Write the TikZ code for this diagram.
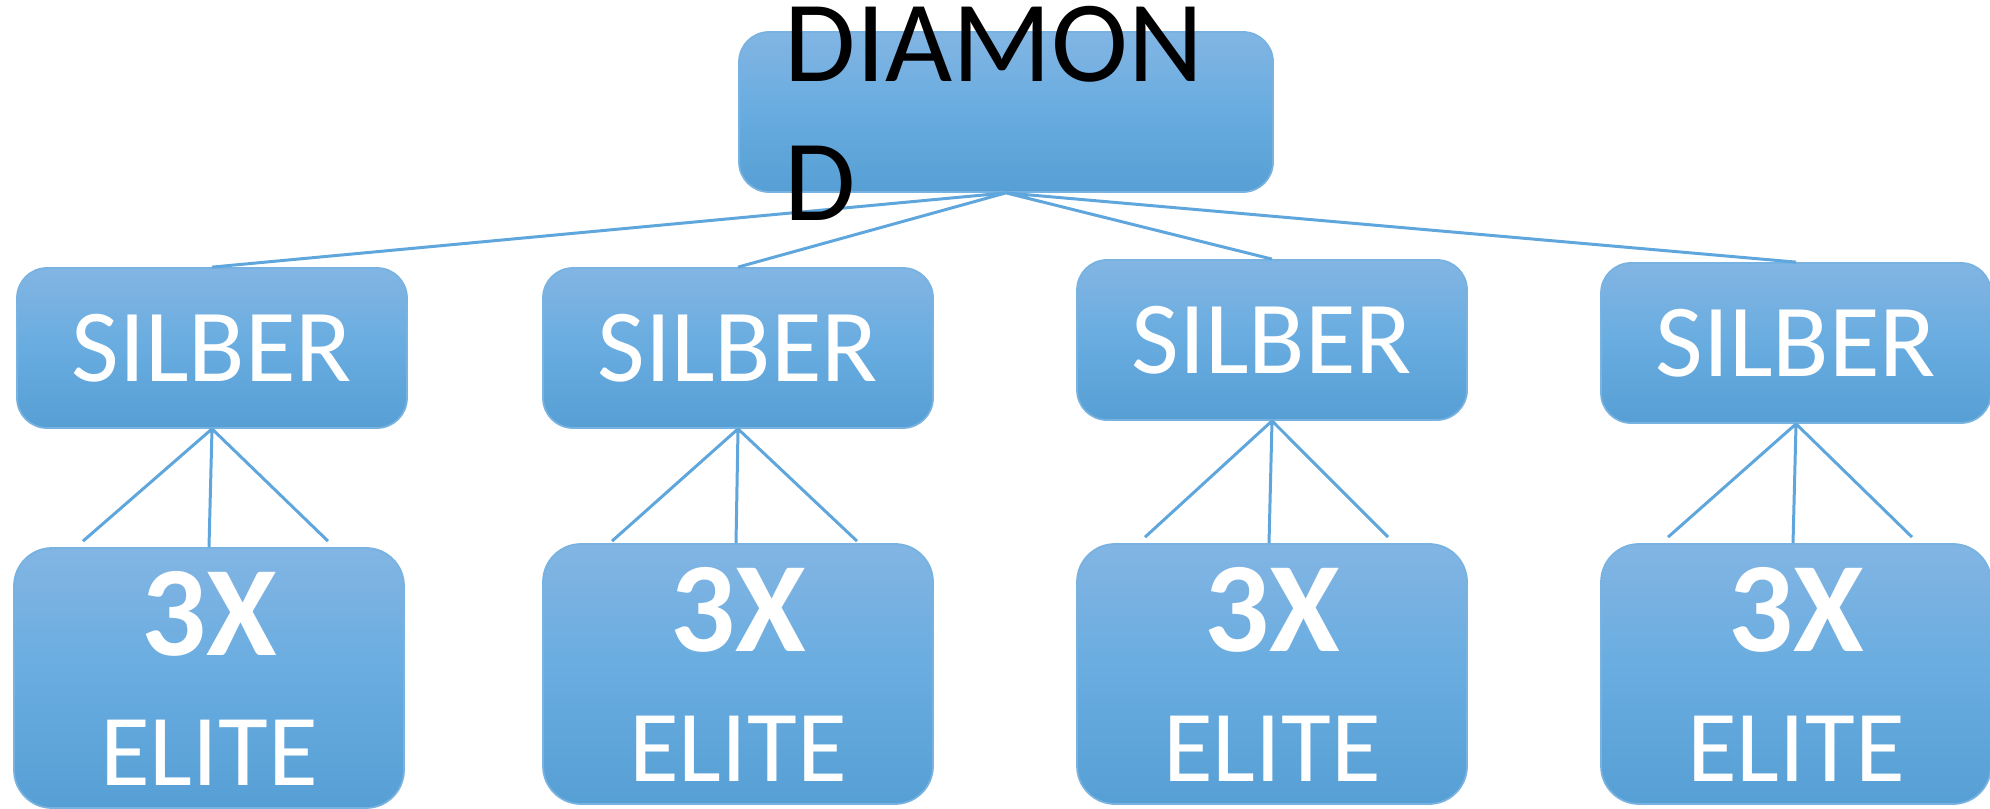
\documentclass[tikz,border=0pt]{standalone}
\usepackage{fontspec}
\setmainfont{Carlito}
\usetikzlibrary{calc}
\definecolor{boxoben}{RGB}{130,181,227}
\definecolor{boxmitte}{RGB}{104,172,224}
\definecolor{boxunten}{RGB}{86,159,212}
\definecolor{boxrand}{RGB}{120,178,225}
\definecolor{linie}{RGB}{94,166,220}

\begin{document}
\begin{tikzpicture}[
    kasten/.style={draw=boxrand, line width=0.5pt, top color=boxoben, bottom color=boxunten, middle color=boxmitte, inner sep=0pt},
    silber/.style={kasten, rounded corners=0.3cm, minimum width=3.9cm, minimum height=1.6cm, text=white, font=\fontsize{29.5}{35}\selectfont},
    elite/.style={kasten, rounded corners=0.38cm, minimum width=3.9cm, minimum height=2.6cm, text=white, align=center, font=\fontsize{29}{37}\selectfont},
    verbinder/.style={draw=linie, line width=0.85pt}]

    \useasboundingbox (0,0) rectangle (19.9,8.08);

      \node[kasten, rounded corners=0.3cm, minimum width=5.34cm, minimum height=1.6cm] (dia) at (10.06,6.96) {};

      \node[silber] (s1) at (2.12,4.60)  {SILBER};
      \node[silber] (s2) at (7.38,4.60)  {SILBER};
      \node[silber] (s3) at (12.72,4.68) {SILBER};
      \node[silber] (s4) at (17.96,4.65) {SILBER};

      \node[elite] (e1) at (2.09,1.30)  {{\fontsize{36.5}{37}\selectfont\bfseries 3X}\\ELITE};
      \node[elite] (e2) at (7.38,1.34)  {{\fontsize{36.5}{37}\selectfont\bfseries 3X}\\ELITE};
      \node[elite] (e3) at (12.72,1.34) {{\fontsize{36.5}{37}\selectfont\bfseries 3X}\\ELITE};
      \node[elite] (e4) at (17.96,1.34) {{\fontsize{36.5}{37}\selectfont\bfseries 3X}\\ELITE};

      % freie Enden ueber den Elite-Kaesten
      \coordinate (e1l) at ($(e1.north)+(-1.26,0.06)$);
      \coordinate (e1m) at ($(e1.north)+(0.00,0)$);
      \coordinate (e1r) at ($(e1.north)+(1.19,0.06)$);
      \coordinate (e2l) at ($(e2.north)+(-1.26,0.02)$);
      \coordinate (e2m) at ($(e2.north)+(-0.02,0)$);
      \coordinate (e2r) at ($(e2.north)+(1.19,0.02)$);
      \coordinate (e3l) at ($(e3.north)+(-1.27,0.06)$);
      \coordinate (e3m) at ($(e3.north)+(-0.03,0)$);
      \coordinate (e3r) at ($(e3.north)+(1.16,0.06)$);
      \coordinate (e4l) at ($(e4.north)+(-1.28,0.06)$);
      \coordinate (e4m) at ($(e4.north)+(-0.03,0)$);
      \coordinate (e4r) at ($(e4.north)+(1.16,0.06)$);

      \draw[verbinder] (dia.south) -- (s1.north) (dia.south) -- (s2.north)
                       (dia.south) -- (s3.north) (dia.south) -- (s4.north);

      \draw[verbinder] (s1.south) -- (e1l) (s1.south) -- (e1m) (s1.south) -- (e1r);
      \draw[verbinder] (s2.south) -- (e2l) (s2.south) -- (e2m) (s2.south) -- (e2r);
      \draw[verbinder] (s3.south) -- (e3l) (s3.south) -- (e3m) (s3.south) -- (e3r);
      \draw[verbinder] (s4.south) -- (e4l) (s4.south) -- (e4m) (s4.south) -- (e4r);

      \node[anchor=north west, align=left, inner sep=0pt, font=\fontsize{33}{39.3}\selectfont] (diatext) at (7.84,8.02) {DIAMON\\D};
    \end{tikzpicture}
\end{document}
